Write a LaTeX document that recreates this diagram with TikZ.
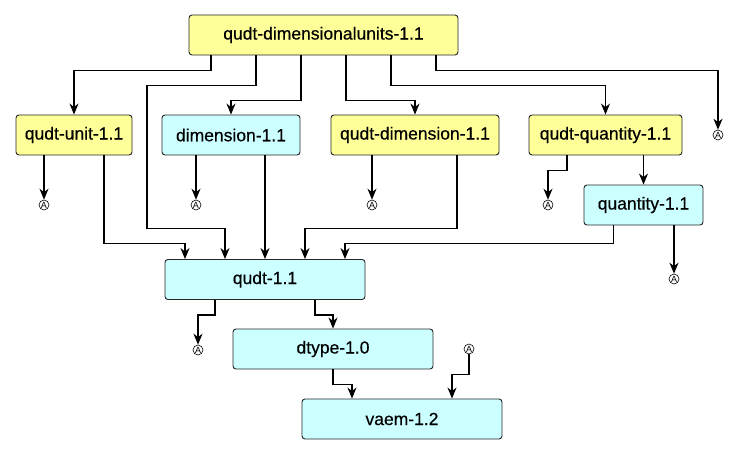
\documentclass[tikz,border=0pt]{standalone}
\usepackage{fontspec}
\setmainfont{Liberation Sans}
\newfontfamily\boxfont{Liberation Sans}[FakeBold=0.4]
\usetikzlibrary{arrows.meta}

\definecolor{extfill}{HTML}{FFFF99}
\definecolor{modfill}{HTML}{CCFFFF}

\begin{document}
\begin{tikzpicture}[
  x=1pt,y=-1pt,
  line/.style={-{Stealth[length=11pt,width=9pt,inset=3.5pt]},line width=1.1pt,draw=black},
  mod/.style={rectangle,rounded corners=3pt,draw=black!85,line width=0.9pt,minimum height=40pt,inner sep=0pt,font=\boxfont\fontsize{17.5}{20}\selectfont},
  ext/.style={mod,fill=extfill},
  loc/.style={mod,fill=modfill},
  anon/.style={circle,draw=black,line width=0.6pt,minimum size=10pt,inner sep=0pt,font=\fontsize{9}{9}\selectfont}
]
\useasboundingbox (0,0) rectangle (740,455);

% Modules
\node[ext,minimum width=269pt] (top) at (323.5,35) {qudt-dimensionalunits-1.1};
\node[ext,minimum width=116pt] (unit) at (74,135) {qudt-unit-1.1};
\node[loc,minimum width=138pt] (dimension) at (231,135) {dimension-1.1};
\node[ext,minimum width=168pt] (qdim) at (415,135) {qudt-dimension-1.1};
\node[ext,minimum width=153pt] (qquant) at (605.5,135) {qudt-quantity-1.1};
\node[loc,minimum width=119pt] (quantity) at (643.5,205) {quantity-1.1};
\node[loc,minimum width=200pt] (qudt) at (265,279.5) {qudt-1.1};
\node[loc,minimum width=200pt] (dtype) at (333,349) {dtype-1.0};
\node[loc,minimum width=200pt] (vaem) at (402,419) {vaem-1.2};

% Anonymous imports
\node[anon] (a1) at (44,205) {A};
\node[anon] (a2) at (196,205) {A};
\node[anon] (a3) at (372,205) {A};
\node[anon] (a4) at (548,205) {A};
\node[anon] (a5) at (718,135) {A};
\node[anon] (a6) at (674,279) {A};
\node[anon] (a7) at (198,350) {A};
\node[anon] (a8) at (469,349) {A};

% Imports of qudt-dimensionalunits
\draw[line] ([xshift=-112.5pt]top.south) -- ++(0,15) -| (unit.north);
\draw[line] ([xshift=-67.5pt]top.south) -- ++(0,30) -| ([xshift=-118pt,yshift=31pt]qudt.north) -| ([xshift=-40pt]qudt.north);
\draw[line] ([xshift=-22.5pt]top.south) -- ++(0,45) -| (dimension.north);
\draw[line] ([xshift=22.5pt]top.south) -- ++(0,45) -| (qdim.north);
\draw[line] ([xshift=67.5pt]top.south) -- ++(0,30) -| (qquant.north);
\draw[line] ([xshift=112.5pt]top.south) -- ++(0,15) -| (a5.north);

% Second row
\draw[line] ([xshift=-30pt]unit.south) -- (a1.north);
\draw[line] ([xshift=30pt]unit.south) |- ([xshift=-80pt,yshift=16pt]qudt.north) -- ([xshift=-80pt]qudt.north);
\draw[line] (dimension.south -| a2.north) -- (a2.north);
\draw[line] (dimension.south -| qudt.north) -- (qudt.north);
\draw[line] (qdim.south -| a3.north) -- (a3.north);
\draw[line] ([xshift=42pt]qdim.south) |- ([xshift=40pt,yshift=31pt]qudt.north) -- ([xshift=40pt]qudt.north);
\draw[line] ([xshift=-38.5pt]qquant.south) -- ++(0,15) -| (a4.north);
\draw[line] (qquant.south -| quantity.north) -- (quantity.north);
\draw[line] (quantity.south -| a6.north) -- (a6.north);
\draw[line] ([xshift=-30pt]quantity.south) |- ([xshift=80pt,yshift=16pt]qudt.north) -- ([xshift=80pt]qudt.north);

% Lower chain
\draw[line] ([xshift=-50pt]qudt.south) -- ++(0,15) -| (a7.north);
\draw[line] ([xshift=50pt]qudt.south) -- ++(0,15) -| (dtype.north);
\draw[line] (dtype.south) -- ++(0,15) -| ([xshift=-50pt]vaem.north);
\draw[line] (a8.south) -- ++(0,20) -| ([xshift=50pt]vaem.north);

\end{tikzpicture}
\end{document}
